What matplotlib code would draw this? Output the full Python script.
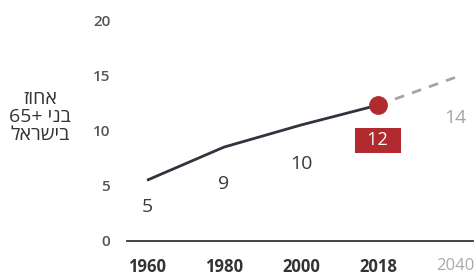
import matplotlib.pyplot as plt

plt.rcParams['font.family'] = ['Open Sans', 'DejaVu Sans']

years = ['1960', '1980', '2000', '2018', '2040']
values = [5.5, 8.5, 10.5, 12.3, 14.8]
labels = ['5', '9', '10', '12', '14']
yticks = [0, 5, 10, 15, 20]
# hebrew label, reversed for left-to-right drawing
ylabel_lines = ['זוחא', '65+ ינב', 'לארשיב']

DARK = '#2f353d'
RED = '#b02a30'
GREY = '#a5a5a5'

fig = plt.figure(figsize=(4.74, 2.77), dpi=100)
ax = fig.add_axes([127 / 474, 36 / 277, 346 / 474, 232 / 277])

xs = list(range(len(years)))
# actual data up to 2018, projection dashed
ax.plot(xs[:4], values[:4], color=DARK, lw=2, solid_capstyle='butt')
ax.plot(xs[3:], values[3:], color=GREY, lw=2, ls=(0, (3.5, 3)))
ax.plot(xs[3], values[3], 'o', color=RED, ms=12.5, zorder=5)

offsets = [-27, -37, -39, -35, -41]
for i, (x, v, lab) in enumerate(zip(xs, values, labels)):
    if i == 3:
        ax.annotate('  ' + lab + '  ', (x, v), xytext=(0, offsets[i]),
                    textcoords='offset pixels', ha='center', va='center',
                    fontsize=13, color='white',
                    bbox=dict(boxstyle='square,pad=0.2', fc=RED, ec='none'))
    else:
        ax.annotate(lab, (x, v), xytext=(0, offsets[i]), textcoords='offset pixels',
                    ha='center', va='center', fontsize=14,
                    color=GREY if i == 4 else '#3a3a3a')

ax.set_xlim(-0.26, 4.234)
ax.set_ylim(0, 21)
ax.set_yticks(yticks)
ax.set_yticklabels([str(t) for t in yticks], fontsize=11, color='#555555',
                   fontweight='semibold')
ax.set_xticks(xs)
ax.set_xticklabels(years, fontsize=12, fontweight='bold', color='#333333')
ax.get_xticklabels()[-1].set_color('#aaaaaa')
ax.get_xticklabels()[-1].set_fontweight('normal')
ax.tick_params(axis='y', length=0, pad=12)
ax.tick_params(axis='x', length=0, pad=12)

for s in ['top', 'right', 'left']:
    ax.spines[s].set_visible(False)
ax.spines['bottom'].set_color(DARK)
ax.spines['bottom'].set_linewidth(1.3)

fig.text(40 / 474, 1 - 117 / 277, '\n'.join(ylabel_lines), ha='center', va='center',
         fontsize=14, color='#333333', linespacing=0.98)

fig.savefig('out.png', dpi=100)
